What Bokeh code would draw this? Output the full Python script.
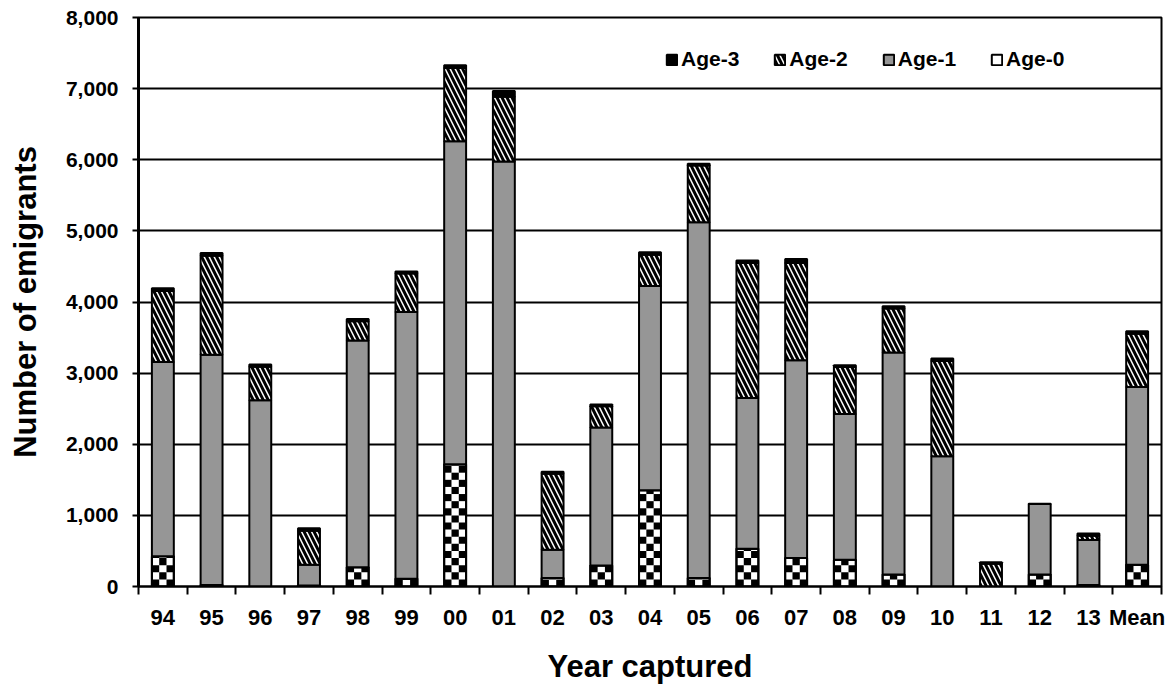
import numpy as np
from bokeh.plotting import figure
from bokeh.models import Range1d, FixedTicker, NumeralTickFormatter, Legend, LegendItem
from bokeh.embed import file_html
from bokeh.resources import INLINE

years = ["94", "95", "96", "97", "98", "99", "00", "01", "02", "03", "04",
         "05", "06", "07", "08", "09", "10", "11", "12", "13", "Mean"]
age0 = [425, 20, 0, 15, 270, 110, 1720, 0, 120, 295, 1355,
        120, 530, 400, 375, 170, 0, 0, 170, 20, 305]
age1 = [2730, 3240, 2620, 290, 3190, 3750, 4540, 5975, 395, 1940, 2870,
        5000, 2120, 2780, 2050, 3120, 1830, 0, 990, 635, 2500]
age2 = [1000, 1390, 470, 480, 270, 540, 1030, 910, 1070, 300, 440,
        800, 1900, 1370, 660, 620, 1340, 320, 0, 60, 750]
age3 = [40, 40, 30, 35, 30, 30, 40, 80, 30, 25, 35,
        25, 35, 55, 25, 30, 35, 20, 5, 30, 35]

FONT = "Liberation Sans"
n = len(years)
x = np.arange(n)
a0 = np.array(age0, dtype=float)
t1 = a0 + np.array(age1)
t2 = t1 + np.array(age2)
t3 = t2 + np.array(age3)
W = 0.45

p = figure(width=1171, height=686, x_range=Range1d(-0.5, n - 0.5), y_range=Range1d(0, 8000),
           output_backend="svg", toolbar_location=None,
           min_border_left=138, min_border_right=10, min_border_top=17, min_border_bottom=100)
p.background_fill_color = "white"
p.border_fill_color = "white"
p.outline_line_color = "black"
p.outline_line_width = 2

# stacked bars
r0 = p.vbar(x=x, width=W, bottom=0, top=a0, fill_color="white", line_color="black", line_width=2)

# checkerboard for Age-0
cell_h = 100.0
cw = W / 3
L, R, B, T = [], [], [], []
for i in range(n):
    v = a0[i]
    if v <= 0:
        continue
    rows = int(np.ceil(v / cell_h))
    for r in range(rows):
        for c in range(3):
            if (r + c) % 2 == 0:
                L.append(x[i] - W / 2 + c * cw)
                R.append(x[i] - W / 2 + (c + 1) * cw)
                B.append(r * cell_h)
                T.append(min((r + 1) * cell_h, v))
p.quad(left=L, right=R, bottom=B, top=T, fill_color="black", line_color=None)
p.vbar(x=x, width=W, bottom=0, top=a0, fill_alpha=0, line_color="black", line_width=2)

r1 = p.vbar(x=x, width=W, bottom=a0, top=t1, fill_color="#969696", line_color="black", line_width=2)
r2 = p.vbar(x=x, width=W, bottom=t1, top=t2, fill_color="white", line_color="black", line_width=2,
            hatch_pattern="left_diagonal_line", hatch_color="black", hatch_weight=3, hatch_scale=10)
r3 = p.vbar(x=x, width=W, bottom=t2, top=t3, fill_color="black", line_color="black", line_width=2)

# grid
p.xgrid.visible = False
p.ygrid.grid_line_color = "black"
p.ygrid.grid_line_width = 2
p.ygrid.ticker = FixedTicker(ticks=list(range(0, 8001, 1000)))

# y axis
ya = p.yaxis[0]
ya.ticker = FixedTicker(ticks=list(range(0, 8001, 1000)))
ya.formatter = NumeralTickFormatter(format="0,0")
ya.axis_line_width = 3
ya.axis_line_color = "black"
ya.major_tick_out = 6
ya.major_tick_in = 0
ya.major_tick_line_width = 2
ya.major_tick_line_color = "black"
ya.minor_tick_line_color = None
ya.major_label_text_font = FONT
ya.major_label_text_font_style = "bold"
ya.major_label_text_font_size = "21px"
ya.major_label_text_color = "black"
ya.major_label_standoff = 14
ya.axis_label = "Number of emigrants"
ya.axis_label_text_font = FONT
ya.axis_label_text_font_style = "bold"
ya.axis_label_text_font_size = "31px"
ya.axis_label_text_color = "black"
ya.axis_label_standoff = 20

# x axis
xa = p.xaxis[0]
xa.ticker = FixedTicker(ticks=list(x), minor_ticks=list(np.arange(-0.5, n, 1.0)))
xa.major_label_overrides = {int(i): years[i] for i in range(n)}
xa.axis_line_width = 2
xa.axis_line_color = "black"
xa.major_tick_line_color = None
xa.major_tick_out = 0
xa.major_tick_in = 0
xa.minor_tick_line_color = "black"
xa.minor_tick_line_width = 2
xa.minor_tick_out = 8
xa.minor_tick_in = 0
xa.major_label_text_font = FONT
xa.major_label_text_font_style = "bold"
xa.major_label_text_font_size = "22px"
xa.major_label_text_color = "black"
xa.major_label_standoff = 10
xa.axis_label = "Year captured"
xa.axis_label_text_font = FONT
xa.axis_label_text_font_style = "bold"
xa.axis_label_text_font_size = "31px"
xa.axis_label_text_color = "black"
xa.axis_label_standoff = 16

legend = Legend(items=[LegendItem(label="Age-3", renderers=[r3]),
                       LegendItem(label="Age-2", renderers=[r2]),
                       LegendItem(label="Age-1", renderers=[r1]),
                       LegendItem(label="Age-0", renderers=[r0])],
                orientation="horizontal", location=(527, 515))
legend.glyph_width = 13
legend.glyph_height = 13
legend.label_standoff = 3
legend.spacing = 34
legend.padding = 0
legend.margin = 0
legend.border_line_color = None
legend.background_fill_alpha = 0
legend.label_text_font = FONT
legend.label_text_font_style = "bold"
legend.label_text_font_size = "21px"
legend.label_text_color = "black"
p.add_layout(legend, "center")

open("out.html", "w").write(file_html(p, INLINE))
